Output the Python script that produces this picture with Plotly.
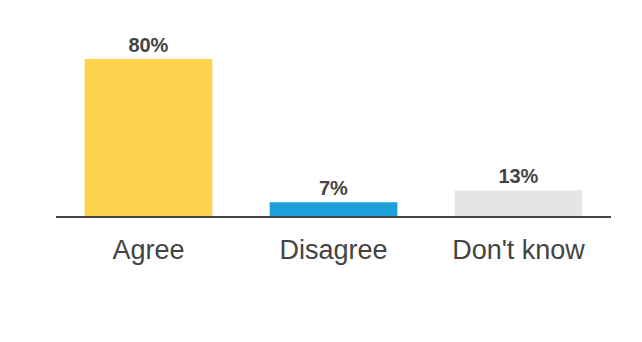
import plotly.graph_objects as go

categories = ["Agree", "Disagree", "Don't know"]
values = [80, 7, 13]
labels = ["80%", "7%", "13%"]
colors = ["#FDD34E", "#1BA0DC", "#E5E5E5"]

fig = go.Figure(go.Bar(
    x=categories, y=values, marker=dict(color=colors, line=dict(width=0)),
    width=0.69, text=labels, textposition="outside", cliponaxis=False,
    textfont=dict(family="Liberation Sans, Arial, sans-serif", size=20, color="#444444"),
    texttemplate="<b>%{text}</b>",
))
fig.update_layout(
    width=642, height=342, margin=dict(l=56, r=31, t=59, b=126),
    plot_bgcolor="white", paper_bgcolor="white", showlegend=False,
    font=dict(family="Liberation Sans, Arial, sans-serif", color="#444444"),
    xaxis=dict(showline=True, linecolor="#444444", linewidth=2,
               tickfont=dict(size=27, color="#444444"), ticks="outside",
               ticklen=9, tickcolor="rgba(0,0,0,0)", range=[-0.5, 2.5]),
    yaxis=dict(visible=False, range=[0, 80], showgrid=False),
    bargap=0.31,
)
fig.write_html("out.html")
